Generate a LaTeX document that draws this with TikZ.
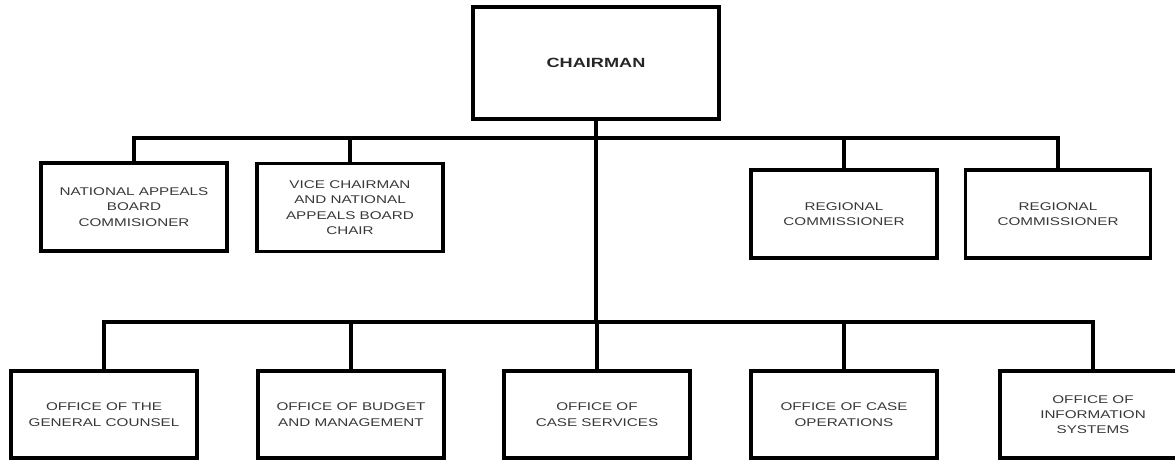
\documentclass[tikz,border=0pt]{standalone}
\usepackage{fontspec}
\setmainfont{Liberation Sans}
\newfontfamily\boxfont[FakeStretch=1.36]{Liberation Sans}
\begin{document}
\begin{tikzpicture}[x=0.75pt,y=-0.75pt,
  orgbox/.style={draw=black, line width=2.7pt, minimum width=186*0.75pt, minimum height=88*0.75pt,
    inner sep=0pt, align=center, text=black!78,
    font=\boxfont\fontsize{8.4}{11.5}\selectfont},
  topbox/.style={orgbox, minimum width=246*0.75pt, minimum height=112*0.75pt,
    text=black!85, font=\boxfont\bfseries\fontsize{10}{12}\selectfont},
  link/.style={line width=2.9pt, draw=black}]
\useasboundingbox (0,0) rectangle (1175,462);
\node[topbox] (chair) at (596,63) {CHAIRMAN};
\node[orgbox] (nab) at (134,207) {NATIONAL APPEALS\\BOARD\\COMMISIONER};
\node[orgbox] (vice) at (350,207.5) {VICE CHAIRMAN\\AND NATIONAL\\APPEALS BOARD\\CHAIR};
\node[orgbox] (reg1) at (844,214) {REGIONAL\\COMMISSIONER};
\node[orgbox, minimum width=185*0.75pt] (reg2) at (1058,214) {REGIONAL\\COMMISSIONER};
\node[orgbox, minimum height=87*0.75pt] (gc) at (104,414.5) {OFFICE OF THE\\GENERAL COUNSEL};
\node[orgbox, minimum height=87*0.75pt] (bud) at (351,414.5) {OFFICE OF BUDGET\\AND MANAGEMENT};
\node[orgbox, minimum height=87*0.75pt] (cs) at (597,414.5) {OFFICE OF\\CASE SERVICES};
\node[orgbox, minimum height=87*0.75pt] (co) at (844,414.5) {OFFICE OF CASE\\OPERATIONS};
\node[orgbox, minimum height=87*0.75pt] (info) at (1093,414.5) {OFFICE OF\\INFORMATION\\SYSTEMS};
\coordinate (tb) at (596,138);
\coordinate (bb) at (596,322);
\draw[link] (nab.north) |- (tb) -| (reg2.north);
\draw[link] (vice.north) -- (vice.north |- tb);
\draw[link] (reg1.north) -- (reg1.north |- tb);
\draw[link] (chair.south) -- (bb);
\draw[link] (gc.north) |- (bb) -| (info.north);
\draw[link] (bud.north) -- (bud.north |- bb);
\draw[link] (cs.north) -- (cs.north |- bb);
\draw[link] (co.north) -- (co.north |- bb);
\end{tikzpicture}
\end{document}
